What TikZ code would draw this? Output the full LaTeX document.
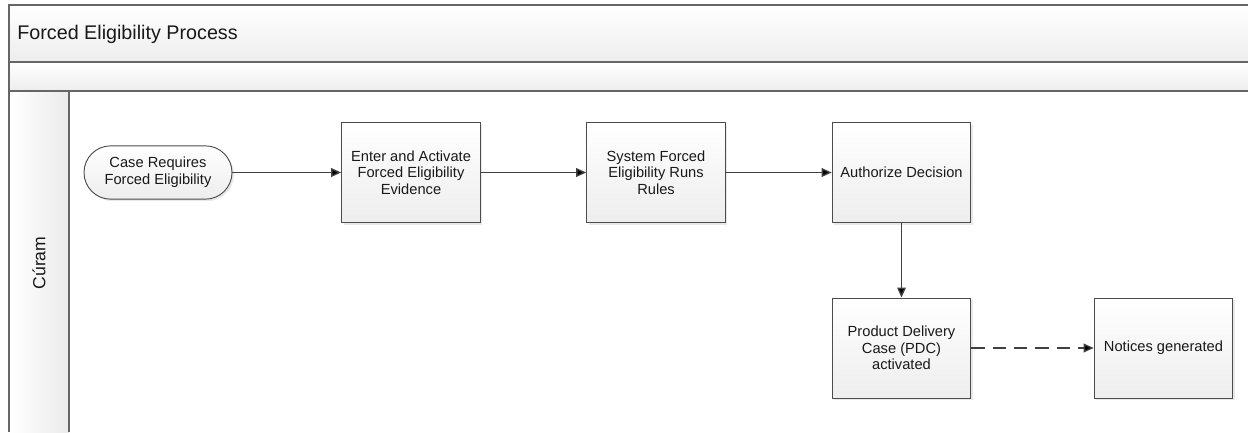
\documentclass[tikz,border=0pt]{standalone}
\usepackage{fontspec}
\setmainfont{Liberation Sans}
\usetikzlibrary{arrows.meta,shadows,positioning}

\begin{document}
\begin{tikzpicture}[x=0.75pt,y=-0.75pt,>={Triangle[length=7.5pt,width=6.5pt]},semithick]
\tikzstyle{every node}=[font=\fontsize{11}{12.5}\selectfont,text=black!90]
\tikzstyle{task}=[draw=black!70,line width=0.7pt,top color=white,bottom color=black!7,align=center,
                  minimum width=104pt,minimum height=75pt,inner sep=2pt,
                  drop shadow={shadow xshift=1.5pt,shadow yshift=-1.5pt,fill=black!18}]
\tikzstyle{terminal}=[task,rounded corners=20pt,minimum width=111pt,minimum height=40pt]
\tikzstyle{flow}=[->,draw=black!75,line width=1pt]
\tikzset{band/.style={draw=black!60,line width=1.3pt}}

\useasboundingbox (0,0) rectangle (1248,432);

% pool header and lane column
\shade[top color=white,bottom color=black!7] (9,5) rectangle (1248,62);
\shade[top color=white,bottom color=black!7] (9,62) rectangle (1248,91);
\shade[left color=white,right color=black!8] (9,91) rectangle (69,432);
\draw[band] (1248,5) -- (9,5) -- (9,432);
\draw[band] (9,62) -- (1248,62);
\draw[band] (9,91) -- (1248,91);
\draw[band] (69,91) -- (69,432);

        \node[anchor=west,font=\fontsize{14.8}{17}\selectfont] (pool)   at (12.5,34)      {Forced Eligibility Process};
        \node[rotate=90,font=\fontsize{13.2}{15}\selectfont]   (lane)   at (39,263)       {Cúram};

        \node[terminal]          (start)    at (158,172.5)     {Case Requires\\Forced Eligibility};
        \node[task]              (enter)    at (411,172.5)     {Enter and Activate\\Forced Eligibility\\Evidence};
        \node[task]              (rules)    at (656,172.5)     {System Forced\\Eligibility Runs\\Rules};
        \node[task]              (auth)     at (901.5,172.5)   {Authorize Decision};
        \node[task]              (pdc)      at (901.5,348)     {Product Delivery\\Case (PDC)\\activated};
        \node[task]              (notice)   at (1163.5,348)    {Notices generated};

        \path[flow]
        (start)   edge node {}     (enter)
        (enter)   edge node {}     (rules)
        (rules)   edge node {}     (auth)
        (auth)    edge node {}     (pdc)
        (pdc)     edge[dash pattern=on 10pt off 6pt] node {}   (notice)
        ; %end path

\end{tikzpicture}
\end{document}
